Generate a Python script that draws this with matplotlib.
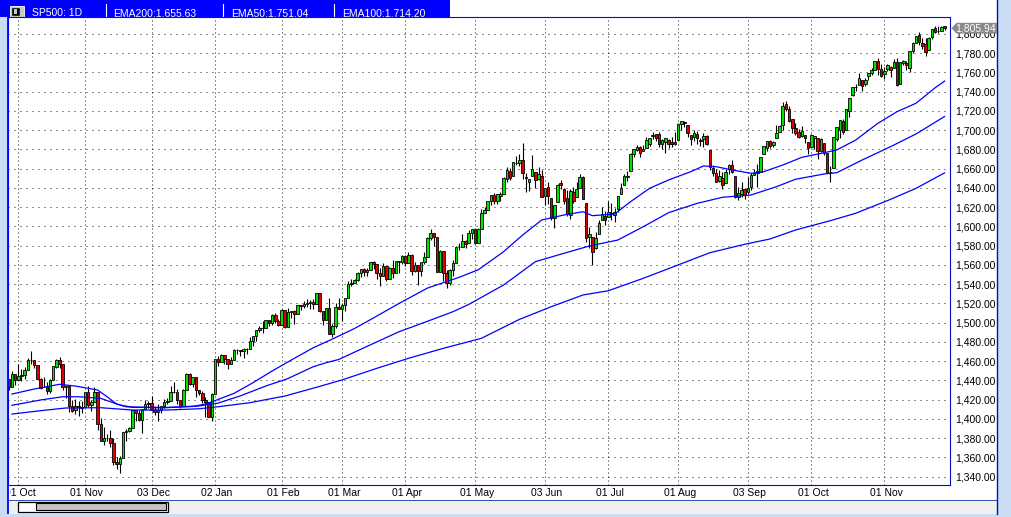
import numpy as np
import pandas as pd
import matplotlib
matplotlib.use("Agg")
import matplotlib.pyplot as plt
from matplotlib.patches import Rectangle, Polygon
from matplotlib.transforms import Bbox, offset_copy, blended_transform_factory

# ------------------------------------------------------------------ data
session_start = "2012-09-26"
session_end = "2013-11-29"
market_holidays = ["2012-10-29", "2012-10-30", "2012-11-22", "2012-12-25", "2013-01-01",
                   "2013-01-21", "2013-02-18", "2013-03-29", "2013-05-27", "2013-07-04",
                   "2013-09-02", "2013-11-28"]

open_ = [
    # Sep 2012
    1441.60, 1433.36, 1447.13,
    # Oct 2012
    1440.90, 1444.99, 1446.05, 1451.08, 1461.40, 1460.93, 1455.90, 1441.48, 1432.82, 1432.84, 1428.75,
    1440.31, 1454.22, 1460.94, 1457.34, 1433.21, 1433.74, 1413.20, 1409.74, 1412.97, 1410.99,
    # Nov 2012
    1412.20, 1427.59, 1414.02, 1417.26, 1428.27, 1394.53, 1377.55, 1379.86, 1380.03, 1374.64, 1355.41,
    1353.36, 1359.88, 1386.82, 1387.79, 1391.03, 1409.15, 1406.29, 1398.77, 1409.96, 1415.95,
    # Dec 2012
    1416.34, 1409.46, 1407.05, 1409.43, 1413.95, 1418.07, 1418.55, 1427.84, 1428.48, 1419.45, 1413.54,
    1430.47, 1446.79, 1435.81, 1443.67, 1430.15, 1426.66, 1419.83, 1418.10, 1402.43,
    # Jan 2013
    1426.19, 1462.42, 1459.37, 1466.47, 1461.89, 1457.15, 1461.02, 1472.12, 1472.05, 1470.67, 1472.33,
    1472.63, 1480.95, 1485.98, 1492.56, 1494.81, 1494.82, 1502.96, 1500.18, 1507.84, 1501.96,
    # Feb 2013
    1498.11, 1513.17, 1495.71, 1511.29, 1512.12, 1509.39, 1517.93, 1517.01, 1519.43, 1520.33, 1521.38,
    1519.79, 1530.94, 1511.95, 1502.42, 1515.60, 1487.85, 1496.94, 1515.99,
    # Mar 2013
    1514.68, 1518.20, 1525.20, 1539.79, 1541.46, 1544.26, 1551.15, 1556.22, 1552.48, 1554.52, 1563.21,
    1560.70, 1552.10, 1548.34, 1558.71, 1545.90, 1556.89, 1551.69, 1563.75, 1562.86,
    # Apr 2013
    1569.18, 1562.17, 1570.25, 1553.69, 1559.98, 1553.26, 1563.11, 1568.61, 1587.73, 1593.30, 1588.84,
    1552.36, 1574.57, 1552.03, 1541.61, 1555.25, 1562.50, 1578.78, 1578.78, 1585.16, 1582.34, 1593.58,
    # May 2013
    1597.55, 1582.77, 1597.60, 1614.40, 1617.55, 1625.95, 1632.69, 1626.69, 1632.10, 1633.75, 1649.13,
    1658.07, 1652.45, 1665.71, 1666.20, 1669.39, 1651.62, 1646.67, 1652.63, 1656.57, 1649.14, 1652.13,
    # Jun 2013
    1631.71, 1640.73, 1629.05, 1609.29, 1625.27, 1644.67, 1638.64, 1629.94, 1612.15, 1635.52, 1630.64,
    1639.77, 1651.83, 1624.62, 1588.62, 1588.77, 1577.52, 1592.27, 1606.44, 1611.12,
    # Jul 2013
    1609.78, 1614.29, 1611.48, 1618.65, 1634.20, 1642.89, 1651.56, 1657.41, 1675.26, 1679.59, 1682.70,
    1677.91, 1681.05, 1686.15, 1694.41, 1695.68, 1696.06, 1685.21, 1687.31, 1690.32, 1687.92, 1687.76,
    # Aug 2013
    1689.42, 1706.10, 1708.01, 1705.79, 1695.30, 1693.35, 1696.10, 1688.37, 1690.65, 1693.88, 1679.61,
    1661.22, 1655.25, 1646.81, 1650.66, 1645.03, 1659.92, 1664.29, 1652.54, 1630.25, 1633.50, 1638.89,
    # Sep 2013
    1635.95, 1640.72, 1653.28, 1657.44, 1656.85, 1675.11, 1681.04, 1689.21, 1685.04, 1691.70, 1697.73,
    1705.74, 1727.34, 1722.44, 1711.44, 1702.60, 1698.02, 1694.05, 1695.52, 1687.26,
    # Oct 2013
    1682.41, 1691.90, 1692.35, 1678.79, 1687.15, 1676.22, 1656.99, 1660.88, 1691.09, 1699.86, 1709.17,
    1700.49, 1720.17, 1736.72, 1745.20, 1746.48, 1752.27, 1747.48, 1756.01, 1759.42, 1762.93, 1772.27,
    1763.24,
    # Nov 2013
    1758.70, 1763.40, 1765.67, 1765.00, 1770.74, 1748.37, 1769.96, 1769.51, 1764.37, 1782.75, 1790.66,
    1798.82, 1790.79, 1789.59, 1783.52, 1797.21, 1806.33, 1802.87, 1803.48, 1808.69,
]

high = [
    1441.60, 1450.20, 1447.13,
    1457.14, 1451.52, 1454.30, 1463.14, 1470.96, 1460.93, 1455.90, 1442.52, 1443.90, 1438.43, 1441.31,
    1455.51, 1462.20, 1464.02, 1457.34, 1435.46, 1433.74, 1420.04, 1421.12, 1418.55, 1418.76,
    1428.35, 1434.27, 1419.90, 1433.38, 1428.27, 1401.23, 1391.39, 1384.87, 1388.81, 1380.13, 1360.62,
    1362.03, 1386.89, 1389.77, 1391.25, 1409.16, 1409.15, 1409.01, 1410.31, 1419.70, 1418.86,
    1423.73, 1413.14, 1415.56, 1413.95, 1420.34, 1421.64, 1434.27, 1438.59, 1431.36, 1419.45, 1430.67,
    1448.00, 1447.75, 1443.70, 1443.67, 1430.15, 1429.42, 1422.80, 1418.10, 1426.74,
    1462.43, 1465.47, 1467.94, 1466.47, 1461.89, 1464.73, 1472.30, 1472.75, 1472.05, 1473.31, 1473.96,
    1485.16, 1485.98, 1492.56, 1496.13, 1502.27, 1503.26, 1503.23, 1509.35, 1509.94, 1504.19,
    1514.41, 1513.17, 1514.96, 1512.53, 1512.90, 1518.31, 1518.31, 1522.29, 1524.69, 1523.14, 1524.24,
    1530.94, 1530.94, 1511.95, 1515.64, 1525.84, 1498.99, 1520.08, 1525.34,
    1519.99, 1525.27, 1543.47, 1545.25, 1545.78, 1552.48, 1556.27, 1556.77, 1556.39, 1563.32, 1563.62,
    1560.70, 1557.25, 1561.56, 1558.71, 1557.74, 1564.91, 1563.95, 1564.07, 1570.28,
    1570.57, 1573.66, 1571.47, 1562.60, 1559.98, 1563.07, 1573.89, 1589.07, 1597.35, 1593.30, 1588.84,
    1575.35, 1574.57, 1554.38, 1555.89, 1565.55, 1579.58, 1583.00, 1592.64, 1585.78, 1596.65, 1597.57,
    1597.55, 1598.60, 1618.46, 1619.77, 1626.03, 1632.78, 1635.01, 1633.70, 1636.00, 1651.10, 1661.49,
    1660.51, 1667.47, 1672.84, 1674.93, 1687.18, 1655.50, 1649.78, 1674.21, 1656.57, 1661.91, 1658.99,
    1640.42, 1646.53, 1629.31, 1622.56, 1644.40, 1648.69, 1640.13, 1637.71, 1639.25, 1640.80, 1646.50,
    1654.19, 1652.45, 1624.62, 1599.19, 1588.77, 1593.79, 1606.83, 1620.07, 1615.94,
    1626.61, 1624.26, 1618.97, 1632.07, 1644.68, 1654.18, 1657.92, 1676.63, 1680.19, 1684.51, 1683.73,
    1684.75, 1693.12, 1692.09, 1697.61, 1695.75, 1698.38, 1690.94, 1691.85, 1690.92, 1693.19, 1698.43,
    1707.85, 1709.67, 1709.24, 1705.79, 1695.30, 1700.18, 1699.42, 1691.49, 1696.81, 1695.52, 1679.61,
    1663.60, 1659.18, 1658.92, 1656.99, 1659.55, 1664.85, 1669.51, 1652.54, 1641.18, 1646.41, 1640.08,
    1651.35, 1655.72, 1659.17, 1664.83, 1672.40, 1684.09, 1689.13, 1689.97, 1688.73, 1704.95, 1705.52,
    1729.44, 1729.86, 1725.23, 1711.44, 1707.63, 1701.71, 1703.85, 1695.52, 1687.26,
    1696.55, 1693.87, 1692.35, 1691.94, 1687.15, 1676.79, 1662.47, 1692.56, 1703.44, 1711.03, 1711.57,
    1721.76, 1733.45, 1745.31, 1747.79, 1759.33, 1752.27, 1753.94, 1759.82, 1764.99, 1772.09, 1775.22,
    1768.53,
    1765.67, 1768.78, 1767.03, 1773.74, 1774.54, 1770.78, 1773.44, 1771.78, 1782.00, 1791.53, 1798.22,
    1802.33, 1795.51, 1795.73, 1797.16, 1804.84, 1808.10, 1808.42, 1808.27, 1808.70,
]

low = [
    1430.53, 1433.36, 1435.60,
    1440.90, 1439.01, 1441.99, 1451.08, 1456.89, 1453.10, 1441.18, 1430.64, 1432.82, 1425.53, 1427.24,
    1440.31, 1453.35, 1452.63, 1429.85, 1422.06, 1407.56, 1407.10, 1405.14, 1403.28, 1405.95,
    1412.20, 1412.91, 1408.13, 1417.26, 1388.14, 1377.51, 1373.03, 1377.19, 1370.78, 1352.50, 1348.05,
    1343.35, 1359.88, 1377.04, 1386.39, 1391.03, 1397.68, 1398.03, 1385.43, 1409.04, 1411.63,
    1408.46, 1403.65, 1398.23, 1405.93, 1410.90, 1415.64, 1418.55, 1426.76, 1416.00, 1411.88, 1413.54,
    1430.47, 1435.80, 1432.82, 1422.58, 1424.66, 1416.43, 1401.80, 1401.58, 1398.11,
    1426.19, 1455.53, 1458.99, 1456.62, 1451.64, 1457.15, 1461.02, 1467.58, 1465.69, 1463.76, 1467.60,
    1472.63, 1475.81, 1481.16, 1489.90, 1489.46, 1494.82, 1496.33, 1498.09, 1500.11, 1496.76,
    1498.11, 1495.02, 1495.71, 1504.71, 1498.49, 1509.39, 1513.61, 1515.61, 1515.93, 1514.02, 1514.14,
    1519.79, 1511.41, 1497.29, 1502.42, 1487.85, 1485.01, 1494.88, 1514.46,
    1501.48, 1512.29, 1525.20, 1538.11, 1541.46, 1542.94, 1547.36, 1548.24, 1548.25, 1554.52, 1555.74,
    1545.13, 1538.57, 1548.34, 1543.55, 1545.90, 1546.22, 1551.69, 1551.90, 1561.08,
    1558.47, 1562.17, 1549.80, 1552.52, 1539.50, 1548.63, 1560.92, 1568.61, 1586.17, 1579.97, 1552.28,
    1552.36, 1543.69, 1536.03, 1539.40, 1548.19, 1562.50, 1575.80, 1578.78, 1577.56, 1582.34, 1586.50,
    1581.28, 1582.77, 1597.60, 1614.21, 1616.64, 1622.70, 1623.09, 1623.71, 1626.74, 1633.75, 1646.68,
    1648.60, 1652.45, 1663.52, 1662.67, 1648.86, 1635.53, 1636.88, 1652.63, 1640.05, 1648.61, 1630.74,
    1622.72, 1623.62, 1607.09, 1598.23, 1625.27, 1639.26, 1622.92, 1610.92, 1608.07, 1623.96, 1630.34,
    1639.77, 1628.91, 1584.32, 1577.70, 1560.33, 1577.09, 1592.27, 1606.44, 1601.57,
    1609.78, 1606.77, 1604.57, 1614.71, 1634.20, 1642.89, 1647.66, 1657.41, 1672.33, 1677.89, 1671.84,
    1677.91, 1681.05, 1684.08, 1690.67, 1689.00, 1682.57, 1680.07, 1676.03, 1681.86, 1682.42, 1684.94,
    1689.42, 1700.68, 1703.55, 1693.29, 1684.91, 1688.38, 1686.02, 1683.35, 1682.62, 1684.83, 1658.59,
    1652.61, 1645.84, 1646.08, 1639.43, 1645.03, 1654.81, 1656.02, 1629.05, 1627.47, 1630.88, 1628.05,
    1633.41, 1637.41, 1653.07, 1640.62, 1656.85, 1675.11, 1678.70, 1681.96, 1682.22, 1691.70, 1697.73,
    1700.35, 1720.20, 1708.89, 1697.10, 1694.90, 1691.88, 1693.11, 1687.11, 1674.99,
    1682.07, 1680.34, 1670.36, 1677.33, 1674.70, 1655.03, 1646.47, 1660.88, 1688.52, 1692.13, 1695.93,
    1700.49, 1714.12, 1735.74, 1740.67, 1746.48, 1740.50, 1745.50, 1752.45, 1757.67, 1762.93, 1757.24,
    1755.72,
    1752.70, 1761.56, 1755.76, 1764.40, 1746.20, 1747.63, 1767.85, 1762.29, 1760.64, 1780.22, 1790.66,
    1788.00, 1784.72, 1777.23, 1783.52, 1794.70, 1800.58, 1800.77, 1802.59, 1804.00,
]

close = [
    1433.32, 1447.15, 1440.67,
    1444.49, 1445.75, 1450.99, 1461.40, 1460.93, 1455.88, 1441.48, 1432.56, 1432.84, 1428.59, 1440.13,
    1454.92, 1460.91, 1457.34, 1433.19, 1433.82, 1413.11, 1408.75, 1412.97, 1411.94, 1412.16,
    1427.59, 1414.20, 1417.26, 1428.39, 1394.53, 1377.51, 1379.85, 1380.03, 1374.53, 1355.49, 1353.33,
    1359.88, 1386.89, 1387.81, 1391.03, 1409.15, 1406.29, 1398.94, 1409.93, 1415.95, 1416.18,
    1409.46, 1407.05, 1409.28, 1413.94, 1418.07, 1418.55, 1427.84, 1428.48, 1419.45, 1413.58, 1430.36,
    1446.79, 1435.81, 1443.69, 1430.15, 1426.66, 1419.83, 1418.10, 1402.43, 1426.19,
    1462.42, 1459.37, 1466.47, 1461.89, 1457.15, 1461.02, 1472.12, 1472.05, 1470.68, 1472.34, 1472.63,
    1480.94, 1485.98, 1492.56, 1494.81, 1494.82, 1502.96, 1500.18, 1507.84, 1501.96, 1498.11,
    1513.17, 1495.71, 1511.29, 1512.12, 1509.39, 1517.93, 1517.01, 1519.43, 1520.33, 1521.38, 1519.79,
    1530.94, 1511.95, 1502.42, 1515.60, 1487.85, 1496.94, 1515.99, 1514.68,
    1518.20, 1525.20, 1539.79, 1541.46, 1544.26, 1551.18, 1556.22, 1552.48, 1554.52, 1563.23, 1560.70,
    1552.10, 1548.34, 1558.71, 1545.80, 1556.89, 1551.69, 1563.77, 1562.85, 1569.19,
    1562.17, 1570.25, 1553.69, 1559.98, 1553.28, 1563.07, 1568.61, 1587.73, 1593.37, 1588.85, 1552.36,
    1574.57, 1552.01, 1541.61, 1555.25, 1562.50, 1578.78, 1578.79, 1585.16, 1582.24, 1593.61, 1597.57,
    1582.70, 1597.59, 1614.42, 1617.50, 1625.96, 1632.69, 1626.67, 1633.70, 1633.77, 1650.34, 1658.78,
    1650.47, 1667.47, 1666.29, 1669.16, 1655.35, 1650.51, 1649.60, 1660.06, 1648.36, 1654.41, 1630.74,
    1640.42, 1631.38, 1608.90, 1622.56, 1643.38, 1642.81, 1626.13, 1612.52, 1636.36, 1626.73, 1639.04,
    1651.81, 1628.93, 1588.19, 1592.43, 1573.09, 1588.03, 1603.26, 1613.20, 1606.28,
    1614.96, 1614.08, 1615.41, 1631.89, 1640.46, 1652.32, 1652.62, 1675.02, 1680.19, 1682.50, 1676.26,
    1680.91, 1689.37, 1692.09, 1695.53, 1692.39, 1685.94, 1690.25, 1691.65, 1685.33, 1685.96, 1685.73,
    1706.87, 1709.67, 1707.14, 1697.37, 1690.91, 1697.48, 1691.42, 1689.47, 1694.16, 1685.39, 1661.32,
    1655.83, 1646.06, 1652.35, 1642.80, 1656.96, 1663.50, 1656.78, 1630.48, 1634.96, 1638.17, 1632.97,
    1639.77, 1653.08, 1655.08, 1655.17, 1671.71, 1683.99, 1689.13, 1683.42, 1687.99, 1697.60, 1704.76,
    1725.52, 1722.34, 1709.91, 1701.84, 1697.42, 1692.77, 1698.67, 1691.75, 1681.55,
    1695.00, 1693.87, 1678.66, 1690.50, 1676.12, 1655.45, 1656.40, 1692.56, 1703.20, 1710.14, 1698.06,
    1721.54, 1733.15, 1744.50, 1744.66, 1754.67, 1746.38, 1752.07, 1759.77, 1762.11, 1771.95, 1763.31,
    1756.54,
    1761.64, 1767.93, 1762.97, 1770.49, 1747.15, 1770.61, 1771.89, 1767.69, 1782.00, 1790.62, 1798.18,
    1791.53, 1787.87, 1781.37, 1795.85, 1804.76, 1802.48, 1802.75, 1807.23, 1805.94,
]

# moving averages, sampled off the chart
ema50_dates = ["2012-09-27", "2012-10-08", "2012-10-18", "2012-10-25", "2012-11-07", "2012-11-12",
               "2012-11-15", "2012-11-20", "2012-12-06", "2012-12-20", "2012-12-27", "2013-01-02",
               "2013-01-10", "2013-01-18", "2013-01-29", "2013-02-07", "2013-02-15", "2013-02-26",
               "2013-03-07", "2013-03-15", "2013-03-27", "2013-04-10", "2013-04-24", "2013-05-02",
               "2013-05-14", "2013-05-22", "2013-05-31", "2013-06-11", "2013-06-19", "2013-06-24",
               "2013-07-03", "2013-07-11", "2013-07-19", "2013-07-29", "2013-08-07", "2013-08-13",
               "2013-08-19", "2013-08-26", "2013-09-04", "2013-09-10", "2013-09-18", "2013-09-26",
               "2013-10-07", "2013-10-11", "2013-10-21", "2013-10-30", "2013-11-07", "2013-11-15",
               "2013-11-25", "2013-11-29"]
ema50_vals = [1425.9, 1431.1, 1436.0, 1434.2, 1430.1, 1423.1, 1415.5, 1412.7, 1411.5, 1413.0,
              1415.5, 1419.0, 1426.6, 1437.7, 1449.8, 1463.0, 1474.0, 1483.0, 1494.0, 1505.0,
              1520.0, 1536.0, 1547.2, 1555.0, 1573.8, 1591.1, 1606.7, 1611.9, 1615.3, 1611.2,
              1612.9, 1625.7, 1639.6, 1648.3, 1656.9, 1662.8, 1662.1, 1658.7, 1655.2, 1656.9,
              1663.8, 1671.8, 1676.6, 1679.4, 1689.8, 1707.2, 1719.2, 1728.0, 1744.0, 1751.04]

ema100_dates = ["2012-09-27", "2012-10-10", "2012-10-19", "2012-10-26", "2012-11-08", "2012-11-16",
                "2012-11-23", "2012-12-10", "2012-12-24", "2013-01-03", "2013-01-14", "2013-01-25",
                "2013-02-05", "2013-02-15", "2013-02-22", "2013-02-28", "2013-03-13", "2013-03-27",
                "2013-04-10", "2013-04-22", "2013-04-29", "2013-05-14", "2013-05-29", "2013-06-11",
                "2013-06-21", "2013-07-05", "2013-07-17", "2013-07-29", "2013-08-09", "2013-08-21",
                "2013-09-04", "2013-09-16", "2013-09-24", "2013-10-07", "2013-10-11", "2013-10-23",
                "2013-11-05", "2013-11-15", "2013-11-29"]
ema100_vals = [1414.2, 1419.7, 1423.1, 1423.1, 1421.4, 1414.5, 1412.1, 1412.0, 1413.5, 1416.5,
               1424.0, 1434.2, 1442.0, 1454.3, 1458.4, 1461.8, 1475.5, 1490.6, 1501.5, 1511.4,
               1519.0, 1539.2, 1563.4, 1572.1, 1579.7, 1585.9, 1599.7, 1614.3, 1624.0, 1630.3,
               1632.7, 1641.3, 1649.0, 1654.5, 1655.8, 1669.0, 1682.9, 1696.1, 1714.20]

ema200_dates = ["2012-09-27", "2012-10-10", "2012-10-22", "2012-11-08", "2012-11-23", "2012-12-10",
                "2012-12-24", "2013-01-03", "2013-01-17", "2013-02-04", "2013-02-19", "2013-03-01",
                "2013-03-18", "2013-04-02", "2013-04-17", "2013-05-03", "2013-05-21", "2013-06-05",
                "2013-06-19", "2013-07-01", "2013-07-17", "2013-08-01", "2013-08-15", "2013-08-30",
                "2013-09-12", "2013-09-24", "2013-10-09", "2013-10-21", "2013-11-05", "2013-11-15",
                "2013-11-29"]
ema200_vals = [1405.1, 1408.6, 1411.4, 1411.7, 1409.3, 1409.3, 1410.6, 1412.7, 1416.9, 1423.8,
               1432.9, 1440.5, 1452.6, 1463.0, 1473.4, 1483.8, 1503.5, 1516.6, 1528.8, 1533.2,
               1546.1, 1560.0, 1572.7, 1581.5, 1587.0, 1596.3, 1606.0, 1613.7, 1628.2, 1639.6,
               1655.63]

month_tick_dates = ["2012-10-01", "2012-11-01", "2012-12-03", "2013-01-02", "2013-02-01", "2013-03-01",
                    "2013-04-01", "2013-05-01", "2013-06-03", "2013-07-01", "2013-08-01", "2013-09-03",
                    "2013-10-01", "2013-11-01"]
month_tick_labels = ["01 Oct", "01 Nov", "03 Dec", "02 Jan", "01 Feb", "01 Mar", "01 Apr", "01 May",
                     "03 Jun", "01 Jul", "01 Aug", "03 Sep", "01 Oct", "01 Nov"]

y_ticks = list(range(1340, 1801, 20))

symbol_label = "SP500: 1D"
ema_labels = ["EMA200:1,655.63", "EMA50:1,751.04", "EMA100:1,714.20"]
last_price_label = "1,805.94"

# ------------------------------------------------------------------ setup
W, H = 1012, 517
FONT = "Liberation Sans"
FS = 7.5
GREEN = "#00e400"
RED = "#e40000"
BLUE = "#0000ff"
NAVY = "#0010c0"
LIGHT = "#cbdcf5"

dates = pd.bdate_range(session_start, session_end, freq="C", holidays=market_holidays)
o = np.array(open_)
h = np.array(high)
l = np.array(low)
c = np.array(close)
assert len(dates) == len(o) == len(h) == len(l) == len(c)
pos = {d.strftime("%Y-%m-%d"): i for i, d in enumerate(dates)}
xi = np.arange(len(dates))

fig = plt.figure(figsize=(W / 100, H / 100), dpi=100, facecolor="white")

# pixel-space background / chrome
bg = fig.add_axes([0, 0, 1, 1], zorder=0)
bg.set_xlim(0, W)
bg.set_ylim(H, 0)
bg.axis("off")
bg.add_patch(Rectangle((0, 17), 7.6, H - 17, color=LIGHT, lw=0))
bg.add_patch(Rectangle((997.5, 0), W - 997.5, H, color=LIGHT, lw=0))
bg.add_patch(Rectangle((0, 513.5), W, H - 513.5, color=LIGHT, lw=0))
bg.add_patch(Rectangle((8, 500), 989.5, 13.5, color="#f0f0f0", lw=0))
bg.plot([8, 997.5], [499.6, 499.6], color="#3050b0", lw=0.7)
bg.plot([997.2, 997.2], [0, 513.5], color=NAVY, lw=1.0)
# scrollbar thumb
bg.add_patch(Rectangle((18.3, 501.5), 150, 10.8, facecolor="white", edgecolor="black", lw=0.9))
bg.add_patch(Rectangle((36.2, 503.0), 130.3, 7.2, facecolor="#c4c4c4", edgecolor="black", lw=0.8))
# header bar
bg.add_patch(Rectangle((0, 0), 450, 17.3, color=BLUE, lw=0))
for sx in (106, 222.7, 334.3):
    bg.plot([sx, sx], [4.3, 17.3], color="white", lw=0.8)
bg.add_patch(Rectangle((10.5, 5.5), 14, 11, facecolor="#c8c8c8", edgecolor="white", lw=0.6))
bg.add_patch(Rectangle((12.5, 7.5), 6.5, 7.5, facecolor="black", edgecolor="black", lw=0.4))
bg.add_patch(Rectangle((14.3, 9.0), 2.6, 4.5, facecolor="#c8c8c8", lw=0))
bg.text(31.7, 16.2, symbol_label, color="white", fontsize=FS, family=FONT, va="baseline", ha="left")
for tx, lab in zip((113.3, 230.7, 341.7), ema_labels):
    bg.text(tx, 16.2, lab, color="white", fontsize=FS, family=FONT, va="baseline", ha="left")

# ------------------------------------------------------------------ chart
ax = fig.add_axes([8 / W, 1 - 485 / H, 942 / W, 468 / H], zorder=2)
ax.set_facecolor("white")
ax.set_xlim(-0.247, 296.72)
ax.set_ylim(1331.4, 1817.6)

ax.set_yticks(y_ticks)
ax.set_yticklabels([f"{v:,.2f}" for v in y_ticks])
ax.yaxis.tick_right()
ax.tick_params(axis="y", length=0, pad=3.6, labelsize=FS)
for t in ax.get_yticklabels():
    t.set_family(FONT)

month_pos = [pos[d] for d in month_tick_dates]
ax.set_xticks(month_pos)
ax.set_xticklabels([])
ax.tick_params(axis="x", length=0)
ax.grid(axis="y", color="#202020", lw=0.72, linestyle=(0, (1, 5)))
ax.grid(axis="x", color="#202020", lw=0.72, linestyle=(0, (1, 3)))
ax.set_axisbelow(True)

for side in ("top", "right", "bottom", "left"):
    ax.spines[side].set_color(NAVY)
    ax.spines[side].set_linewidth(0.8)

# candles
up = c >= o
ax.vlines(xi, l, h, color="black", lw=0.8, zorder=3)
ax.bar(xi, np.abs(c - o), bottom=np.minimum(o, c), width=0.8,
       color=np.where(up, GREEN, RED), edgecolor="black", linewidth=0.6, zorder=4)

# moving averages
for dts, vals in ((ema50_dates, ema50_vals), (ema100_dates, ema100_vals), (ema200_dates, ema200_vals)):
    ax.plot([pos[d] for d in dts], vals, color=BLUE, lw=0.9, zorder=5)

# month labels (first one clipped at the frame like the original)
trans = blended_transform_factory(ax.transData, ax.transAxes)
lab_trans = offset_copy(trans, fig=fig, x=2, y=-7.6, units="dots")
for i, (p, lab) in enumerate(zip(month_pos, month_tick_labels)):
    t = fig.text(p, 0, lab, transform=lab_trans, ha="center", va="center", fontsize=FS, family=FONT)
    if i == 0:
        t.set_clip_box(Bbox.from_extents(9.6, 0, W, H))
        t.set_clip_on(True)

# ------------------------------------------------------------------ overlay
ov = fig.add_axes([0, 0, 1, 1], zorder=10)
ov.set_xlim(0, W)
ov.set_ylim(H, 0)
ov.axis("off")
ov.patch.set_alpha(0)
ov.plot([8.3, 8.3], [17, 513.5], color=BLUE, lw=1.3, solid_capstyle="butt")

fig.canvas.draw()
y_disp = ax.transData.transform((0, c[-1]))[1]
ty = H - y_disp
ov.add_patch(Polygon([(951.5, ty), (956.5, ty - 5.4), (997, ty - 5.4), (997, ty + 5.4), (956.5, ty + 5.4)],
                     closed=True, facecolor="#8a8a8a", edgecolor="none"))
ov.text(955.3, ty, last_price_label, color="white", fontsize=FS, family=FONT, va="center", ha="left")

fig.savefig("out.png", dpi=100, facecolor="white")
